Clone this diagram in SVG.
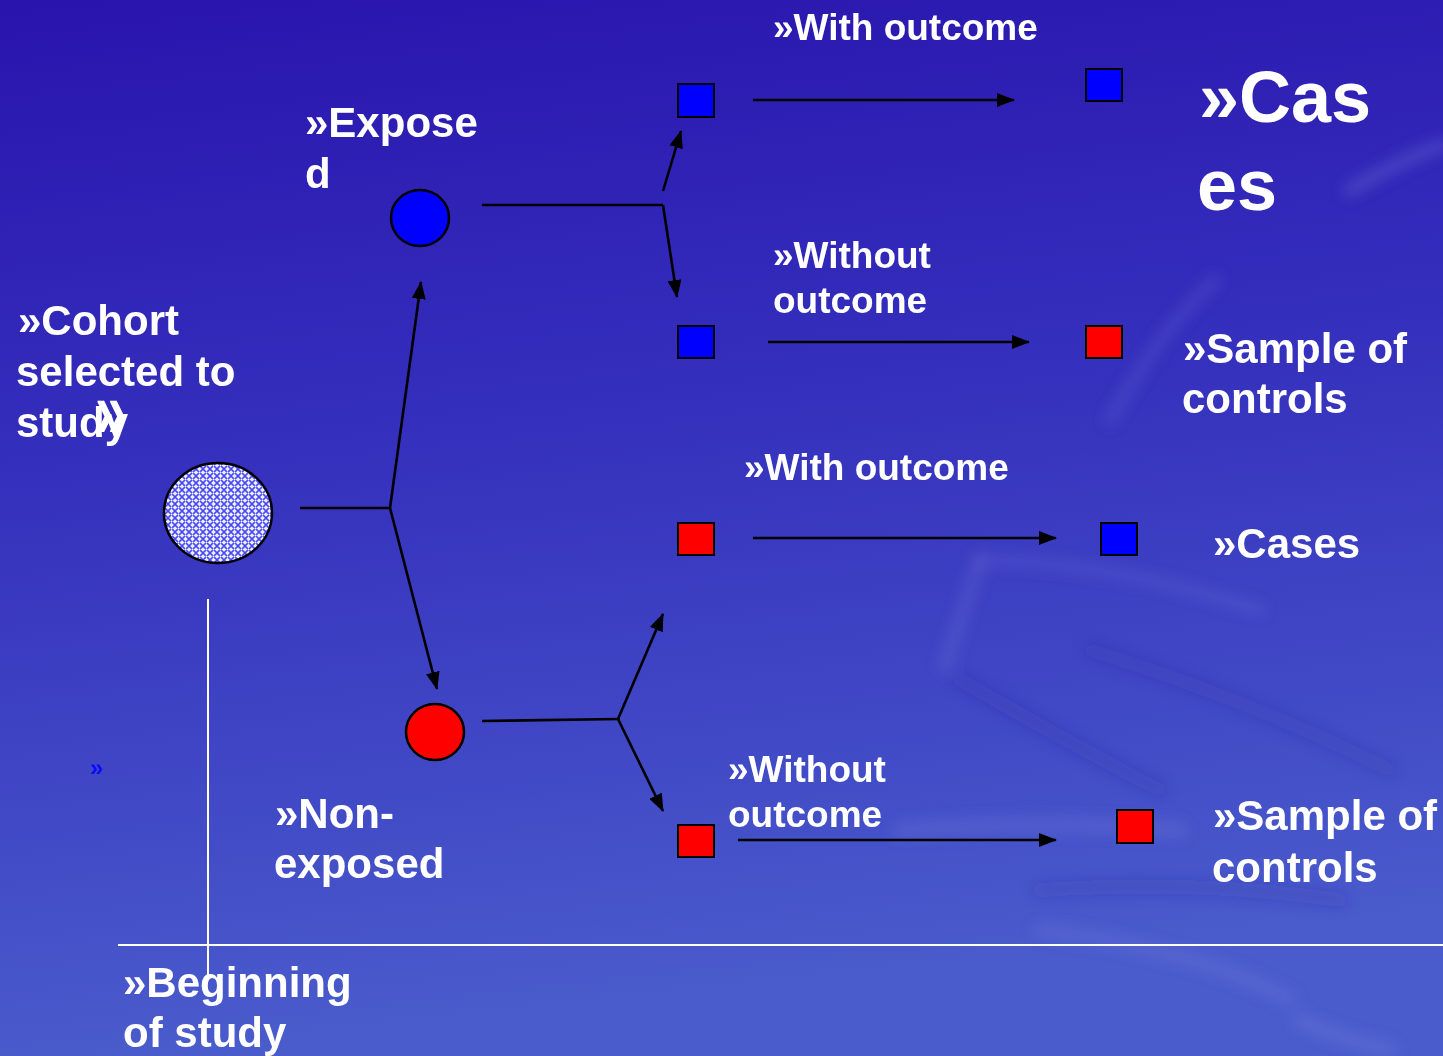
<svg xmlns="http://www.w3.org/2000/svg" width="1443" height="1056" viewBox="0 0 1443 1056">
  <defs>
    <linearGradient id="bg" x1="0" y1="0" x2="0.15" y2="1">
      <stop offset="0" stop-color="#2914ad"/>
      <stop offset="0.45" stop-color="#3530bd"/>
      <stop offset="1" stop-color="#4a5ccc"/>
    </linearGradient>
    <pattern id="lattice" width="7" height="7" patternUnits="userSpaceOnUse">
      <rect width="7" height="7" fill="#eef0ff"/>
      <path d="M0,0 L7,7 M7,0 L0,7" stroke="#4a4af5" stroke-width="1.6"/>
      <circle cx="3.5" cy="3.5" r="0.9" fill="#ffffff"/>
    </pattern>
    <filter id="soft" x="-20%" y="-20%" width="140%" height="140%">
      <feGaussianBlur stdDeviation="7"/>
    </filter>
    <marker id="head" viewBox="0 0 18 14" refX="17" refY="7" markerWidth="18" markerHeight="14" markerUnits="userSpaceOnUse" orient="auto">
      <path d="M0,0 L18,7 L0,14 Z" fill="#000"/>
    </marker>
    <style>
      .lbl { font-family: "Liberation Sans", Arial, sans-serif; font-weight: bold; fill: #ffffff; }
      .m { font-size: 37px; }
      .l { font-size: 42px; }
      .xl { font-size: 72px; }
      .wire { fill: none; stroke: #000; stroke-width: 2.6; }
      .arr { fill: none; stroke: #000; stroke-width: 2.6; marker-end: url(#head); }
      .box { stroke: #000; stroke-width: 2; }
      .blue { fill: #0000ff; }
      .red { fill: #ff0000; }
      .rule { stroke: #ffffff; stroke-width: 2; }
    </style>
  </defs>

  <!-- backdrop -->
  <rect width="1443" height="1056" fill="url(#bg)"/>
  <g id="backdrop-swooshes" filter="url(#soft)" fill="none" stroke-linecap="round">
    <path d="M1350,190 Q1400,160 1443,145" stroke="#8a90e8" stroke-width="14" opacity="0.25"/>
    <path d="M1215,280 Q1160,330 1110,420" stroke="#8088e0" stroke-width="12" opacity="0.2"/>
    <path d="M980,560 Q960,620 945,665" stroke="#8a92e6" stroke-width="14" opacity="0.18"/>
    <path d="M980,560 Q1100,560 1260,610" stroke="#8a92e6" stroke-width="12" opacity="0.15"/>
    <path d="M960,680 Q1100,760 1160,790" stroke="#20209a" stroke-width="14" opacity="0.18"/>
    <path d="M1090,650 Q1250,700 1390,770" stroke="#20209a" stroke-width="14" opacity="0.15"/>
    <path d="M900,830 Q1050,820 1180,830" stroke="#8a92e6" stroke-width="16" opacity="0.2"/>
    <path d="M1040,890 Q1200,880 1340,900" stroke="#2a2aa0" stroke-width="14" opacity="0.18"/>
    <path d="M1040,930 Q1200,950 1290,1000" stroke="#8a92e6" stroke-width="14" opacity="0.18"/>
    <path d="M1300,1020 Q1340,1040 1390,1050" stroke="#8a92e6" stroke-width="14" opacity="0.22"/>
  </g>

  <!-- timeline rules -->
  <g id="timeline">
    <line class="rule" x1="208" y1="599" x2="208" y2="976"/>
    <line class="rule" x1="118" y1="945" x2="1443" y2="945"/>
  </g>

  <!-- connectors -->
  <g id="connectors">
    <path class="wire" d="M300,508 L390,508"/>
    <path class="arr" d="M390,508 L421,282"/>
    <path class="arr" d="M390,508 L437,689"/>
    <path class="wire" d="M482,205 L663,205"/>
    <path class="arr" d="M663,191 L681,131"/>
    <path class="arr" d="M663,205 L677,297"/>
    <path class="wire" d="M482,721 L620,719"/>
    <path class="arr" d="M618,719 L663,614"/>
    <path class="arr" d="M618,719 L663,811"/>
    <path class="arr" d="M753,100 L1014,100"/>
    <path class="arr" d="M768,342 L1029,342"/>
    <path class="arr" d="M753,538 L1056,538"/>
    <path class="arr" d="M738,840 L1056,840"/>
  </g>

  <!-- cohort -->
  <g id="cohort">
    <ellipse cx="218" cy="513" rx="54" ry="50" fill="url(#lattice)" stroke="#000" stroke-width="2.5"/>
    <text class="lbl l" x="18" y="335">»Cohort</text>
    <text class="lbl l" x="16" y="386">selected to</text>
    <text class="lbl l" x="16" y="437">study</text>
    <text class="lbl" x="95" y="438" font-size="66" transform="translate(95 438) scale(0.85 1.2) translate(-95 -438)">»</text>
  </g>

  <!-- exposed -->
  <g id="exposed">
    <ellipse cx="420" cy="218" rx="29" ry="28" class="blue" stroke="#000" stroke-width="2.5"/>
    <text class="lbl l" x="305" y="137">»Expose</text>
    <text class="lbl l" x="305" y="188">d</text>
  </g>

  <!-- non-exposed -->
  <g id="non-exposed">
    <ellipse cx="435" cy="732" rx="29" ry="28" class="red" stroke="#000" stroke-width="2.5"/>
    <text class="lbl l" x="275" y="828">»Non-</text>
    <text class="lbl l" x="274" y="878">exposed</text>
  </g>

  <!-- exposed with outcome -->
  <g id="exp-with-outcome">
    <rect class="box blue" x="678" y="84" width="36" height="33"/>
    <text class="lbl m" x="773" y="40">»With outcome</text>
  </g>
  <g id="cases-top">
    <rect class="box blue" x="1086" y="69" width="36" height="32"/>
    <text class="lbl xl" x="1199" y="122">»Cas</text>
    <text class="lbl xl" x="1197" y="210">es</text>
  </g>

  <!-- exposed without outcome -->
  <g id="exp-without-outcome">
    <rect class="box blue" x="678" y="326" width="36" height="32"/>
    <text class="lbl m" x="773" y="268">»Without</text>
    <text class="lbl m" x="773" y="313">outcome</text>
  </g>
  <g id="controls-top">
    <rect class="box red" x="1086" y="326" width="36" height="32"/>
    <text class="lbl l" x="1183" y="363">»Sample of</text>
    <text class="lbl l" x="1182" y="413">controls</text>
  </g>

  <!-- non-exposed with outcome -->
  <g id="nonexp-with-outcome">
    <rect class="box red" x="678" y="523" width="36" height="32"/>
    <text class="lbl m" x="744" y="480">»With outcome</text>
  </g>
  <g id="cases-bottom">
    <rect class="box blue" x="1101" y="523" width="36" height="32"/>
    <text class="lbl l" x="1213" y="558">»Cases</text>
  </g>

  <!-- non-exposed without outcome -->
  <g id="nonexp-without-outcome">
    <rect class="box red" x="678" y="825" width="36" height="32"/>
    <text class="lbl m" x="728" y="782">»Without</text>
    <text class="lbl m" x="728" y="827">outcome</text>
  </g>
  <g id="controls-bottom">
    <rect class="box red" x="1117" y="810" width="36" height="33"/>
    <text class="lbl l" x="1213" y="830">»Sample of</text>
    <text class="lbl l" x="1212" y="882">controls</text>
  </g>

  <!-- stray bullet -->
  <text x="90" y="776" font-family="Liberation Sans, Arial, sans-serif" font-weight="bold" font-size="24" fill="#0a0aff">»</text>

  <!-- start of study -->
  <g id="beginning">
    <text class="lbl l" x="123" y="997">»Beginning</text>
    <text class="lbl l" x="123" y="1047">of study</text>
  </g>
</svg>
